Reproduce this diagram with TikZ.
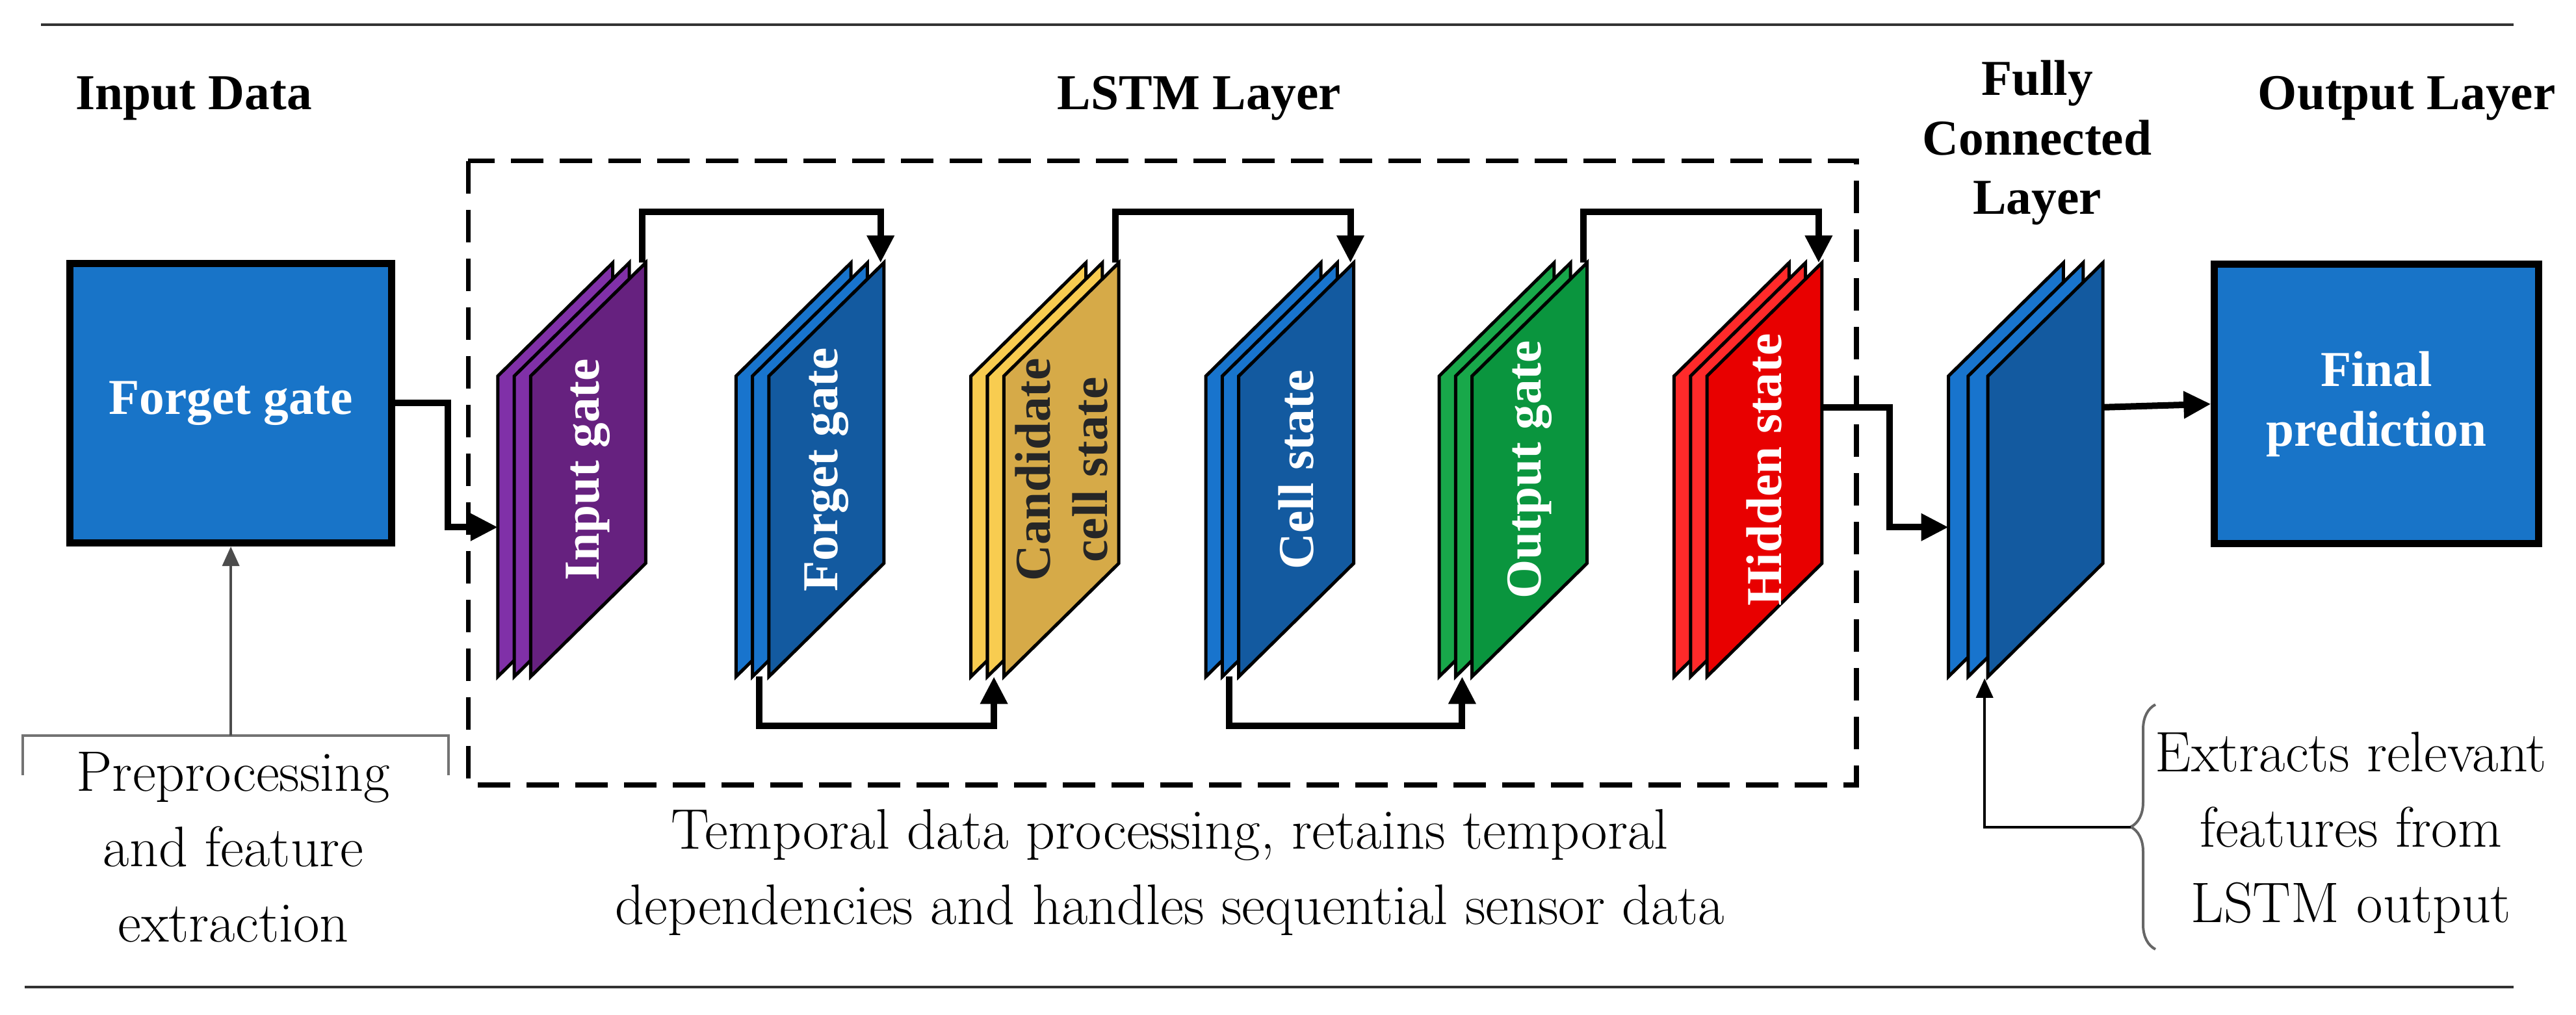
\documentclass[tikz,border=0pt]{standalone}
\usepackage{fontspec}
\newfontfamily\tnr{Liberation Serif}
\usetikzlibrary{arrows.meta,decorations.pathreplacing}
\definecolor{boxblue}{HTML}{1874C8}
\definecolor{purS}{HTML}{8030A8}\definecolor{purF}{HTML}{66217F}
\definecolor{bluS}{HTML}{1874CD}\definecolor{bluF}{HTML}{135AA0}
\definecolor{yelS}{HTML}{F8CC50}\definecolor{yelF}{HTML}{D6AA48}
\definecolor{grnS}{HTML}{18A84A}\definecolor{grnF}{HTML}{0A953E}
\definecolor{redS}{HTML}{FF2A2A}\definecolor{redF}{HTML}{E80000}
\definecolor{rule}{HTML}{333333}
\tikzset{
  conn/.style={line width=0.1cm,-{Triangle[length=0.42cm,width=0.4cm]}},
  thin conn/.style={line width=0.04cm,draw=black!70,-{Triangle[length=0.3cm,width=0.26cm]}},
  bigbox/.style={draw=black,line width=0.11cm,fill=boxblue,minimum width=4.95cm,minimum height=4.3cm,text=white,font=\tnr\fontsize{22}{26}\selectfont\bfseries,align=center},
  head/.style={font=\tnr\fontsize{22}{26}\selectfont\bfseries,align=center},
  body/.style={font=\rmfamily\fontsize{25}{33}\selectfont,align=center},
  sheet/.style={draw=black,line width=0.05cm},
  slabtext/.style={rotate=90,font=\tnr\fontsize{22}{25}\selectfont\bfseries,align=center}
}
% #1 left x, #2 strip color, #3 face color, #4 name, #5 text, #6 text colour, #7 sheet offset
\newcommand\myslab[7]{%
  \foreach \k in {0,1,2}{%
    \pgfmathsetmacro\xo{#1+\k*#7}%
    \ifnum\k=2 \def\fc{#3}\else\def\fc{#2}\fi
    \filldraw[sheet,fill=\fc] (\xo,229) -- (\xo,412) -- (\xo+70,343) -- (\xo+70,160) -- cycle;
  }
  \coordinate (#4-tr) at ({#1+2*#7+68},160);
  \coordinate (#4-b) at ({#1+#7+4},412);
  \coordinate (#4-in) at (#1,321);
  \coordinate (#4-r) at ({#1+2*#7+70},248);
  \node[slabtext,text=#6] (#4-t) at ({#1+2*#7+35},286) {#5};
}
\begin{document}
\begin{tikzpicture}[x=0.02527cm,y=-0.02527cm]
\useasboundingbox (0,0) rectangle (1568,618);
% rules
\draw[rule,line width=0.04cm] (25,15) -- (1530,15);
\draw[rule,line width=0.04cm] (15,601) -- (1530,601);
% headers
\node[head] (h1) at (118,60) {Input Data};
\node[head] (h2) at (730,60) {LSTM Layer};
\node[head] (h3) at (1240,87) {Fully\\Connected\\Layer};
\node[head] (h4) at (1465,60) {Output Layer};
% boxes
\node[bigbox] (inbox) at (140.5,245.5) {Forget gate};
\node[bigbox,minimum width=4.98cm] (final) at (1446.5,246) {Final\\prediction};
% dashed region
\draw[line width=0.075cm,dash pattern=on 0.5cm off 0.25cm] (285,98) rectangle (1130,478);
% slabs
\myslab{303}{purS}{purF}{ig}{Input gate}{white}{10}
\myslab{448}{bluS}{bluF}{fg}{Forget gate}{white}{10}
\myslab{591}{yelS}{yelF}{cs}{Candidate\\cell state}{black!85}{10}
\myslab{734}{bluS}{bluF}{ce}{Cell state}{white}{10}
\myslab{876}{grnS}{grnF}{og}{Output gate}{white}{10}
\myslab{1019}{redS}{redF}{hs}{Hidden state}{white}{10}
\myslab{1186}{bluS}{bluF}{fc}{}{white}{12}
% connectors
\draw[conn] (inbox.east) -- ++(32,0) |- (ig-in);
\draw[conn] (ig-tr) -- ++(0,-31) -| (fg-tr);
\draw[conn] (fg-b) -- ++(0,30) -| (cs-b);
\draw[conn] (cs-tr) -- ++(0,-31) -| (ce-tr);
\draw[conn] (ce-b) -- ++(0,30) -| (og-b);
\draw[conn] (og-tr) -- ++(0,-31) -| (hs-tr);
\draw[conn] (hs-r) -- (1150,248) |- (fc-in);
\draw[conn] (fc-r) -- (final.west);
% preprocessing bracket
\coordinate (pp) at (140.5,448);
\draw[draw=black!55,line width=0.04cm] (14,472) -- (14,448) -- (273,448) -- (273,472);
\draw[thin conn] (pp) -- (inbox.south);
\node[body] (ppt) at (142,516) {Preprocessing\\and feature\\extraction};
% LSTM caption
\node[body] (cap) at (712,531) {Temporal data processing, retains temporal\\dependencies and handles sequential sensor data};
% FC note
\draw[draw=black!60,line width=0.04cm,decorate,decoration={brace,amplitude=0.38cm}] (1312,578) -- (1312,429);
\coordinate (br) at (1297,503.5);
\draw[thin conn,draw=black] (br) -- (1208,503.5) -- (1208,413);
\node[body] (fct) at (1431,507) {Extracts relevant\\features from\\LSTM output};
\end{tikzpicture}
\end{document}
